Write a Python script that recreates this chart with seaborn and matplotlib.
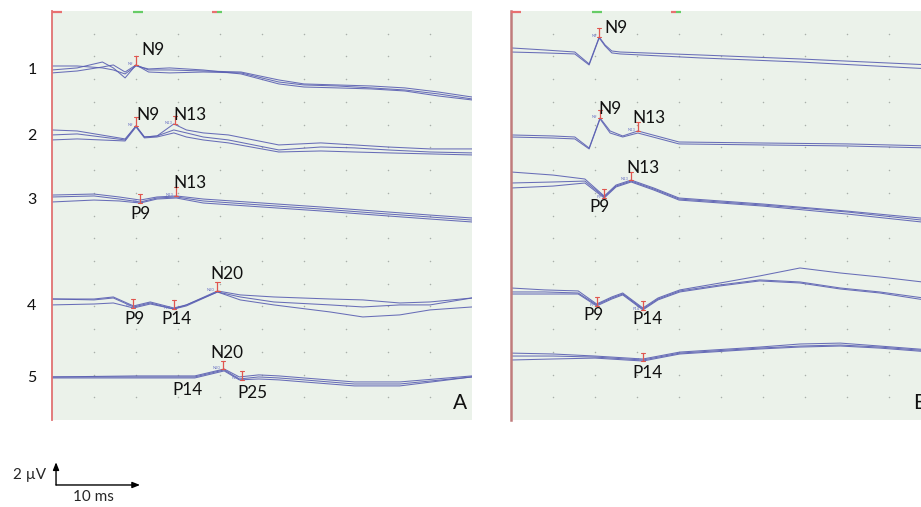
import numpy as np
import pandas as pd
import matplotlib
matplotlib.use("Agg")
import matplotlib.pyplot as plt
import seaborn as sns

# ---------------- data: time (ms), amplitude (µV, relative to channel baseline) -------------
# Panel A
A1_t = [0, 3, 6, 7.3, 8.7, 10.0, 11.5, 14, 18, 22.5, 27, 30, 34, 38, 42, 46, 50]
A1_a = [0.0, 0.18, 0.70, 0.18, -0.70, 0.44, -0.18, -0.26, -0.18, -0.26, -1.06, -1.32, -1.41, -1.58, -1.76, -2.11, -2.55]
A1_b = [-0.26, -0.09, 0.26, 0.44, -0.18, 0.44, 0.0, 0.0, -0.09, -0.18, -0.88, -1.23, -1.32, -1.41, -1.58, -1.94, -2.38]
A1_c = [0.35, 0.35, 0.18, 0.0, -0.35, 0.35, 0.09, 0.18, 0.0, -0.35, -1.23, -1.50, -1.58, -1.67, -1.85, -2.29, -2.64]

A2_t = [0, 3, 8.7, 10.0, 11.0, 12.5, 14.5, 16, 18, 21, 27, 32, 36, 40, 45, 50]
A2_a = [0.44, 0.35, -0.35, 0.79, -0.18, -0.09, 0.97, 0.44, 0.18, 0.0, -0.88, -0.70, -0.88, -1.06, -1.23, -1.23]
A2_b = [0.0, 0.09, -0.44, 0.79, -0.18, -0.09, 0.44, 0.18, -0.18, -0.44, -1.32, -1.06, -1.14, -1.32, -1.50, -1.58]
A2_c = [-0.44, -0.35, -0.53, 0.70, -0.26, -0.18, 0.18, -0.18, -0.44, -0.70, -1.50, -1.41, -1.50, -1.58, -1.67, -1.76]

A3_t = [0, 5, 8, 10.5, 12.5, 14.8, 18, 25, 32, 40, 45, 50]
A3_a = [0.26, 0.35, 0.09, -0.18, 0.09, 0.18, -0.09, -0.44, -0.79, -1.23, -1.50, -1.76]
A3_b = [0.09, 0.18, -0.09, -0.35, 0.0, 0.09, -0.26, -0.62, -0.97, -1.41, -1.67, -1.94]
A3_c = [-0.35, -0.18, -0.26, -0.44, -0.09, 0.0, -0.44, -0.79, -1.14, -1.58, -1.85, -2.11]

A4_t = [0, 5, 7.3, 9.7, 11.7, 14.5, 16, 19.7, 22.4, 26.4, 33.1, 37, 41.4, 45, 50]
A4_a = [0.26, 0.26, 0.44, -0.35, 0.0, -0.53, -0.26, 0.97, 0.62, 0.44, 0.26, 0.18, -0.09, 0.0, 0.35]
A4_b = [0.26, 0.18, 0.35, -0.44, -0.09, -0.62, -0.26, 0.88, 0.44, 0.0, -0.26, -0.44, -0.26, -0.26, 0.35]
A4_c = [-0.26, -0.18, -0.09, -0.53, -0.18, -0.62, -0.35, 0.88, 0.18, -0.26, -0.88, -1.32, -1.14, -0.70, -0.44]

A5_t = [0, 10, 17, 20.5, 22.3, 24.6, 27, 30, 36, 41.4, 50]
A5_a = [0.0, 0.09, 0.09, 0.70, 0.0, 0.18, 0.09, -0.09, -0.44, -0.44, 0.09]
A5_b = [0.0, 0.0, 0.0, 0.62, -0.18, 0.0, -0.09, -0.26, -0.62, -0.62, 0.0]
A5_c = [-0.09, -0.09, -0.09, 0.53, -0.26, -0.18, -0.26, -0.44, -0.79, -0.79, 0.0]

# Panel B
B1_t = [0, 4, 7.6, 9.3, 10.5, 11.2, 12, 13, 22.5, 34.4, 50]
B1_a = [0.18, 0.0, -0.18, -1.23, 1.14, 0.44, -0.09, -0.18, -0.44, -0.79, -1.32]
B1_b = [-0.18, -0.26, -0.35, -1.32, 1.06, 0.35, -0.26, -0.35, -0.70, -1.06, -1.67]

B2_t = [0, 5, 7.6, 9.3, 10.6, 11.8, 13.3, 15.1, 20, 30, 40, 50]
B2_a = [0.09, 0.0, -0.09, -1.06, 1.58, 0.44, 0.0, 0.44, -0.53, -0.62, -0.70, -0.88]
B2_b = [-0.09, -0.18, -0.26, -1.14, 1.50, 0.26, -0.09, 0.26, -0.70, -0.79, -0.88, -1.06]

B3_t = [0, 5, 8.8, 11.1, 12.5, 14.3, 17, 20, 30, 40, 50]
B3_a = [1.06, 0.79, 0.44, -1.06, -0.09, 0.35, -0.35, -1.23, -1.76, -2.38, -3.08]
B3_b = [0.09, 0.18, 0.26, -1.14, -0.18, 0.26, -0.44, -1.32, -1.85, -2.46, -3.26]
B3_c = [-0.35, -0.18, 0.09, -1.23, -0.26, 0.18, -0.53, -1.41, -1.94, -2.64, -3.43]

B4_t = [0, 4, 8, 10.2, 12, 13.3, 15.7, 17.5, 20.1, 24.9, 29.6, 34.4, 39.2, 43.9, 50]
B4_a = [0.35, 0.18, 0.09, -1.06, -0.44, -0.09, -1.41, -0.53, 0.18, 0.79, 1.41, 2.11, 1.67, 1.32, 0.79]
B4_b = [0.0, 0.0, -0.09, -1.14, -0.53, -0.18, -1.50, -0.62, 0.09, 0.62, 1.06, 0.88, 0.35, 0.0, -0.62]
B4_c = [-0.18, -0.18, -0.18, -1.23, -0.62, -0.26, -1.58, -0.70, 0.0, 0.53, 0.97, 0.79, 0.26, -0.09, -0.79]

B5_t = [0, 5, 10, 15.7, 20.1, 29.6, 34.4, 39.2, 43.9, 50]
B5_a = [0.26, 0.18, 0.0, -0.26, 0.35, 0.79, 1.06, 1.14, 0.88, 0.53]
B5_b = [0.0, 0.0, -0.09, -0.35, 0.26, 0.70, 0.88, 0.97, 0.79, 0.44]
B5_c = [-0.35, -0.26, -0.18, -0.44, 0.18, 0.62, 0.79, 0.88, 0.70, 0.35]

# peak markers
A_peak_channel = [1, 2, 2, 3, 3, 4, 4, 4, 5, 5]
A_peak_name = ["N9", "N9", "N13", "P9", "N13", "P9", "P14", "N20", "N20", "P25"]
A_peak_latency = [10.0, 10.0, 14.6, 10.5, 14.8, 9.6, 14.5, 19.7, 20.4, 22.6]
B_peak_channel = [1, 2, 2, 3, 3, 4, 4, 5]
B_peak_name = ["N9", "N9", "N13", "P9", "N13", "P9", "P14", "P14"]
B_peak_latency = [10.5, 10.6, 15.1, 11.1, 14.3, 10.2, 15.7, 15.7]

# annotation texts
A_label_text = ["N9", "N9", "N13", "N13", "P9", "N20", "P9", "P14", "N20", "P14", "P25"]
B_label_text = ["N9", "N9", "N13", "N13", "P9", "P9", "P14", "P14"]
channel_names = ["1", "2", "3", "4", "5"]
panel_names = ["A", "B"]
scale_amp_text = "2 µV"
scale_time_text = "10 ms"
scale_amp = 2.0
scale_time = 10.0

# ---------------- layout (positions / styles) ----------------
A_offsets = [30.81, 25.09, 19.54, 10.39, 3.79]
B_offsets = [32.57, 25.00, 20.77, 11.27, 5.63]
A_label_pos = [(10.6, 32.57), (10.1, 26.85), (14.4, 26.85), (14.4, 20.86), (9.3, 18.13),
               (18.9, 12.85), (8.6, 8.89), (13.0, 8.89), (18.9, 5.90), (14.3, 2.64), (22.1, 2.38)]
B_label_pos = [(11.1, 34.5), (10.4, 27.38), (14.4, 26.58), (13.7, 22.18), (9.3, 18.75),
               (8.6, 9.24), (14.4, 8.89), (14.4, 4.14)]
channel_label_y = [30.81, 25.0, 19.37, 10.04, 3.70]

BG = "#ebf2ea"
TRACE = "#5a5fb2"
RED = "#e0564f"
SMALL = "#6c74c4"

sns.set_style("white")
plt.rcParams["font.family"] = ["Lato", "DejaVu Sans"]

# build long table
rows = []
groups = {
    "A": [(A1_t, [A1_a, A1_b, A1_c]), (A2_t, [A2_a, A2_b, A2_c]), (A3_t, [A3_a, A3_b, A3_c]),
          (A4_t, [A4_a, A4_b, A4_c]), (A5_t, [A5_a, A5_b, A5_c])],
    "B": [(B1_t, [B1_a, B1_b]), (B2_t, [B2_a, B2_b]), (B3_t, [B3_a, B3_b, B3_c]),
          (B4_t, [B4_a, B4_b, B4_c]), (B5_t, [B5_a, B5_b, B5_c])],
}
offsets = {"A": A_offsets, "B": B_offsets}
for p, chans in groups.items():
    for ci, (tt, sweeps) in enumerate(chans):
        for si, amp in enumerate(sweeps):
            for t, v in zip(tt, amp):
                rows.append(dict(panel=p, channel=ci + 1, sweep=f"{p}{ci+1}{si}", time=t,
                                 amp=v, y=v + offsets[p][ci]))
df = pd.DataFrame(rows)

W, H = 921, 507
fig = plt.figure(figsize=(W / 100, H / 100), dpi=100)


def rect(x0, y0, x1, y1):
    return [x0 / W, 1 - y1 / H, (x1 - x0) / W, (y1 - y0) / H]


axA = fig.add_axes(rect(52, 11, 472, 420))
axB = fig.add_axes(rect(511, 11, 931, 420))
axes = {"A": axA, "B": axB}

gx, gy = np.meshgrid(np.arange(5, 50, 5), np.arange(2, 36, 2))
for p, ax in axes.items():
    ax.set_facecolor(BG)
    ax.set_xlim(0, 50)
    ax.set_ylim(0, 36)
    ax.set_xticks([])
    ax.set_yticks([])
    for s in ["top", "right", "bottom"]:
        ax.spines[s].set_visible(False)
    ax.spines["left"].set_color("#e07272" if p == "A" else "#c07c7c")
    ax.spines["left"].set_linewidth(1.3 if p == "A" else 1.8)
    ax.scatter(gx.ravel(), gy.ravel(), s=1.2, color="#a9b0a9", linewidths=0, zorder=1)
    # acquisition marks on top edge
    for (x0, x1, c) in [(0, 1.2, "#e87070"), (9.6, 10.8, "#66cc66"), (19.0, 19.6, "#e87070"), (19.6, 20.2, "#66cc66")]:
        ax.plot([x0, x1], [35.95, 35.95], color=c, lw=1.6, clip_on=False, zorder=3,
                solid_capstyle="butt")
    sub = df[df.panel == p]
    sns.lineplot(data=sub, x="time", y="y", units="sweep", estimator=None, sort=False,
                 color=TRACE, lw=0.75, alpha=0.9, ax=ax, legend=False, zorder=2)
    ax.set_xlabel("")
    ax.set_ylabel("")

# peak markers
for p, chs, names, lats in [("A", A_peak_channel, A_peak_name, A_peak_latency),
                            ("B", B_peak_channel, B_peak_name, B_peak_latency)]:
    ax = axes[p]
    for ch, nm, lt in zip(chs, names, lats):
        tt, sweeps = groups[p][ch - 1]
        vals = [np.interp(lt, tt, s) for s in sweeps]
        base = (max(vals) if nm.startswith("N") else min(vals)) + offsets[p][ch - 1]
        top = base + 0.75
        ax.plot([lt, lt], [base, top], color=RED, lw=0.9, zorder=4)
        ax.plot([lt - 0.25, lt + 0.25], [top, top], color=RED, lw=0.8, zorder=4)
        ax.plot([lt - 0.25, lt + 0.25], [base, base], color=RED, lw=0.8, zorder=4)
        ax.text(lt - 0.3, base + 0.12, nm, fontsize=3.0, color=SMALL, ha="right", va="center", zorder=4)

# big labels
for p, texts, poss in [("A", A_label_text, A_label_pos), ("B", B_label_text, B_label_pos)]:
    ax = axes[p]
    for tx, (x, y) in zip(texts, poss):
        ax.text(x, y, tx, fontsize=12.3, ha="left", va="center", color="#111111", zorder=5)
axA.text(47.7, 1.5, panel_names[0], fontsize=15, ha="left", va="center", color="#111111")
axB.text(47.9, 1.5, panel_names[1], fontsize=15, ha="left", va="center", color="#111111")

# channel numbers
for nm, y in zip(channel_names, channel_label_y):
    axA.text(-2.4, y, nm, fontsize=11.5, ha="center", va="center", color="#111111", clip_on=False)

# scale bar
x0, y0 = 0.48, -5.72
axA.annotate("", xy=(x0, y0 + scale_amp), xytext=(x0, y0), xycoords="data",
             annotation_clip=False,
             arrowprops=dict(arrowstyle="-|>,head_length=0.45,head_width=0.18", color="black", lw=1.0,
                             shrinkA=0, shrinkB=0))
axA.annotate("", xy=(x0 + scale_time, y0), xytext=(x0, y0), xycoords="data",
             annotation_clip=False,
             arrowprops=dict(arrowstyle="-|>,head_length=0.45,head_width=0.18", color="black", lw=1.0,
                             shrinkA=0, shrinkB=0))
axA.text(-0.7, y0 + 0.9, scale_amp_text, fontsize=11, ha="right", va="center", clip_on=False)
axA.text(x0 + 4.4, y0 - 1.05, scale_time_text, fontsize=11, ha="center", va="center", clip_on=False)

fig.savefig("out.png", dpi=100)
